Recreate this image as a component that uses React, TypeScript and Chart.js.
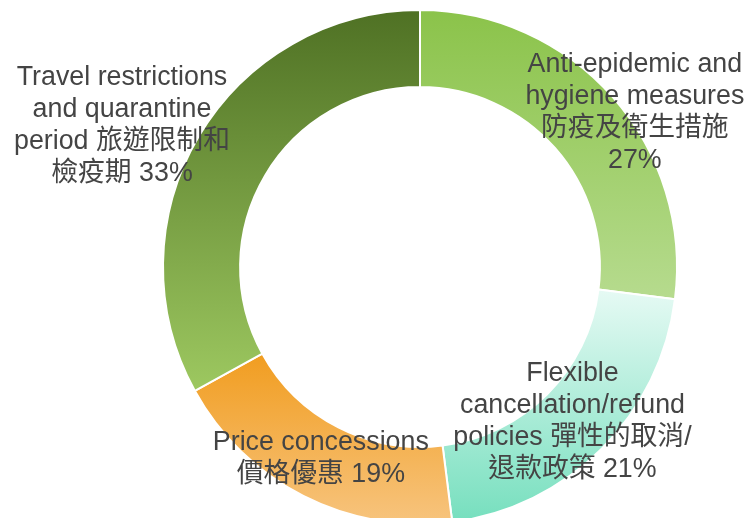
import React, { useEffect, useRef } from 'react';
import { Chart, registerables } from 'chart.js';

Chart.register(...registerables);

// ---- data ----
const categories = [
  'Anti-epidemic and hygiene measures 防疫及衛生措施',
  'Flexible cancellation/refund policies 彈性的取消/退款政策',
  'Price concessions 價格優惠',
  'Travel restrictions and quarantine period 旅遊限制和檢疫期',
];
const shares = [27, 21, 19, 33];
const labelLines = [
  ['Anti-epidemic and', 'hygiene measures', '防疫及衛生措施', '{v}%'],
  ['Flexible', 'cancellation/refund', 'policies 彈性的取消/', '退款政策 {v}%'],
  ['Price concessions', '價格優惠 {v}%'],
  ['Travel restrictions', 'and quarantine', 'period 旅遊限制和', '檢疫期 {v}%'],
];
const sliceTop = ['#8bc34a', '#e6faf4', '#f19d20', '#4f7124'];
const sliceBottom = ['#b6db8e', '#76dfbe', '#f7c47e', '#9dc860'];
// label nudges relative to each slice's centroid (px)
const labelNudge = [
  [51, -10],
  [-2, 0],
  [0, -3],
  [-110, -30],
];

const FONT = '26.8px "Liberation Sans", Arial, "Noto Sans CJK TC", sans-serif';
const LINE_H = 32;

const gradientPlugin = {
  id: 'sliceGradients',
  beforeDatasetsDraw(chart: any) {
    const ctx = chart.ctx;
    const meta = chart.getDatasetMeta(0);
    meta.data.forEach((arc: any, i: number) => {
      const { y, startAngle, endAngle, outerRadius, innerRadius } = arc.getProps([
        'y', 'startAngle', 'endAngle', 'outerRadius', 'innerRadius',
      ]);
      let minY = Infinity;
      let maxY = -Infinity;
      const steps = 90;
      for (let s = 0; s <= steps; s++) {
        const a = startAngle + ((endAngle - startAngle) * s) / steps;
        for (const r of [innerRadius, outerRadius]) {
          const py = y + r * Math.sin(a);
          if (py < minY) minY = py;
          if (py > maxY) maxY = py;
        }
      }
      const g = ctx.createLinearGradient(0, minY, 0, maxY);
      g.addColorStop(0, sliceTop[i]);
      g.addColorStop(1, sliceBottom[i]);
      arc.options.backgroundColor = g;
    });
  },
};

const labelPlugin = {
  id: 'sliceLabels',
  afterDatasetsDraw(chart: any) {
    const ctx = chart.ctx;
    const meta = chart.getDatasetMeta(0);
    ctx.save();
    ctx.font = FONT;
    ctx.fillStyle = '#444444';
    ctx.textAlign = 'center';
    ctx.textBaseline = 'middle';
    meta.data.forEach((arc: any, i: number) => {
      const pos = arc.tooltipPosition(false);
      const cx = pos.x + labelNudge[i][0];
      const cy = pos.y + labelNudge[i][1];
      const lines = labelLines[i].map((l) => l.replace('{v}', String(shares[i])));
      const n = lines.length;
      lines.forEach((line, k) => {
        ctx.fillText(line, cx, cy + (k - (n - 1) / 2) * LINE_H);
      });
    });
    ctx.restore();
  },
};

export default function App() {
  const ref = useRef<HTMLCanvasElement>(null);
  useEffect(() => {
    if (!ref.current) return;
    const chart = new Chart(ref.current, {
      type: 'doughnut',
      data: {
        labels: categories,
        datasets: [
          {
            data: shares,
            backgroundColor: sliceTop.slice(),
            borderColor: '#ffffff',
            borderWidth: 2,
          },
        ],
      },
      options: {
        responsive: false,
        animation: false,
        cutout: '70%',
        layout: { padding: { top: 9, bottom: 9, left: 162, right: 71 } },
        plugins: {
          legend: { display: false },
          tooltip: { enabled: false },
        },
      },
      plugins: [gradientPlugin, labelPlugin],
    });
    return () => chart.destroy();
  }, []);
  return (
    <div
      style={{
        position: 'absolute',
        left: 0,
        top: 0,
        width: 749,
        height: 518,
        overflow: 'hidden',
        background: '#ffffff',
      }}
    >
      <canvas ref={ref} width={749} height={534} style={{ display: 'block' }} />
    </div>
  );
}
